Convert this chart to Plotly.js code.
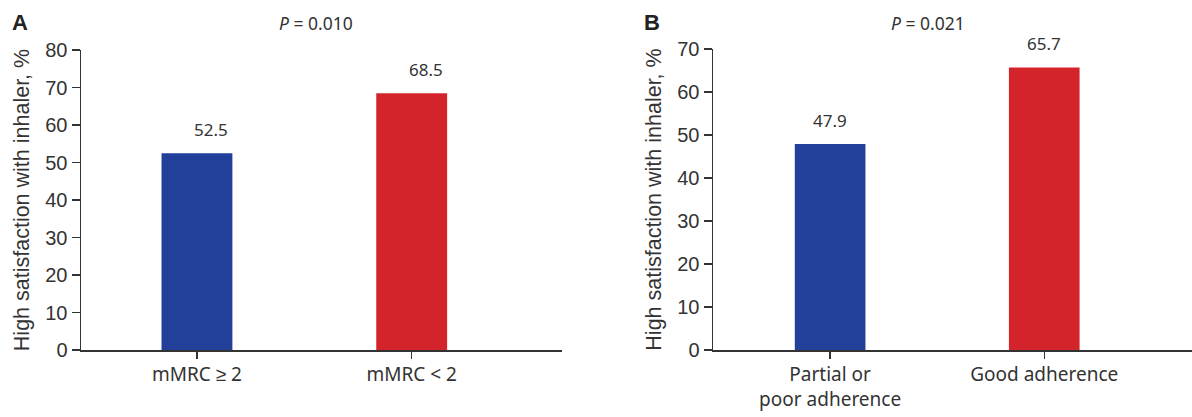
<!DOCTYPE html>
<html>
<head>
<meta charset="utf-8">
<script src="https://cdn.plot.ly/plotly-3.0.1.min.js"></script>
<style>html,body{margin:0;padding:0;background:#fff;}#chart{width:1192px;height:417px;}</style>
</head>
<body>
<div id="chart"></div>
<script>
// Panel A
const catsA = ["mMRC ≥ 2", "mMRC < 2"];
const valsA = [52.5, 68.5];
const labelsA = ["52.5", "68.5"];
const pA = "0.010";
// Panel B
const catsB = ["Partial or<br>poor adherence", "Good adherence"];
const valsB = [47.9, 65.7];
const labelsB = ["47.9", "65.7"];
const pB = "0.021";
const barColors = ["#22409a", "#d3242b"];
const yTitle = "High satisfaction with inhaler, %";

const axisCol = "#333333";
const numFont = {family: "Liberation Sans, Arial, sans-serif", size: 20, color: "#333333"};
const catFont = {family: "Noto Sans, sans-serif", size: 19, color: "#333333"};
const lblFont = {family: "Noto Sans, sans-serif", size: 17, color: "#333333"};
const pFont = {family: "Noto Sans, sans-serif", size: 17.5, color: "#333333"};

const traces = [
  {type: "bar", x: catsA, y: valsA, xaxis: "x", yaxis: "y", marker: {color: barColors}, width: 0.33, hoverinfo: "none"},
  {type: "bar", x: catsB, y: valsB, xaxis: "x2", yaxis: "y2", marker: {color: barColors}, width: 0.33, hoverinfo: "none"}
];

const xCommon = {
  type: "category", showline: true, linecolor: axisCol, linewidth: 1.5,
  ticks: "outside", ticklen: 7, tickwidth: 1.5, tickcolor: axisCol,
  showgrid: false, zeroline: false, tickfont: catFont, fixedrange: true
};
const yCommon = {
  showline: true, linecolor: axisCol, linewidth: 1.5,
  ticks: "outside", ticklen: 8, tickwidth: 1.5, tickcolor: axisCol,
  showgrid: false, zeroline: false, tickfont: numFont, fixedrange: true,
  title: {text: yTitle, font: {family: "Liberation Sans, Arial, sans-serif", size: 21.5, color: "#333333"}, standoff: 9}
};

const annotations = [];
valsA.forEach((v, i) => annotations.push({x: catsA[i], y: v, xref: "x", yref: "y", text: labelsA[i], showarrow: false, yanchor: "bottom", yshift: 10, xshift: 14, font: lblFont}));
valsB.forEach((v, i) => annotations.push({x: catsB[i], y: v, xref: "x2", yref: "y2", text: labelsB[i], showarrow: false, yanchor: "bottom", yshift: 10, font: lblFont}));
annotations.push({xref: "paper", yref: "paper", x: 20/1192, y: 1 - 22/417, text: "<b>A</b>", showarrow: false, xanchor: "center", yanchor: "middle", font: {family: "Liberation Sans, Arial, sans-serif", size: 22, color: "#222"}});
annotations.push({xref: "paper", yref: "paper", x: 652/1192, y: 1 - 22/417, text: "<b>B</b>", showarrow: false, xanchor: "center", yanchor: "middle", font: {family: "Liberation Sans, Arial, sans-serif", size: 22, color: "#222"}});
annotations.push({xref: "paper", yref: "paper", x: 316/1192, y: 1 - 23/417, text: "<i>P</i> = " + pA, showarrow: false, xanchor: "center", yanchor: "middle", font: pFont});
annotations.push({xref: "paper", yref: "paper", x: 928/1192, y: 1 - 23/417, text: "<i>P</i> = " + pB, showarrow: false, xanchor: "center", yanchor: "middle", font: pFont});

const layout = {
  width: 1192, height: 417,
  margin: {l: 0, r: 0, t: 0, b: 0},
  paper_bgcolor: "#fff", plot_bgcolor: "#fff",
  showlegend: false,
  xaxis: Object.assign({}, xCommon, {domain: [81/1192, 562/1192], range: [-0.54, 1.70], anchor: "y"}),
  yaxis: Object.assign({}, yCommon, {domain: [67/417, 367/417], range: [0, 80], dtick: 10, anchor: "x"}),
  xaxis2: Object.assign({}, xCommon, {domain: [713/1192, 1], range: [-0.547, 1.69], anchor: "y2"}),
  yaxis2: Object.assign({}, yCommon, {domain: [67/417, 368/417], range: [0, 70], dtick: 10, anchor: "x2"}),
  annotations: annotations
};

Plotly.newPlot("chart", traces, layout, {displayModeBar: false, staticPlot: true});
</script>
</body>
</html>
